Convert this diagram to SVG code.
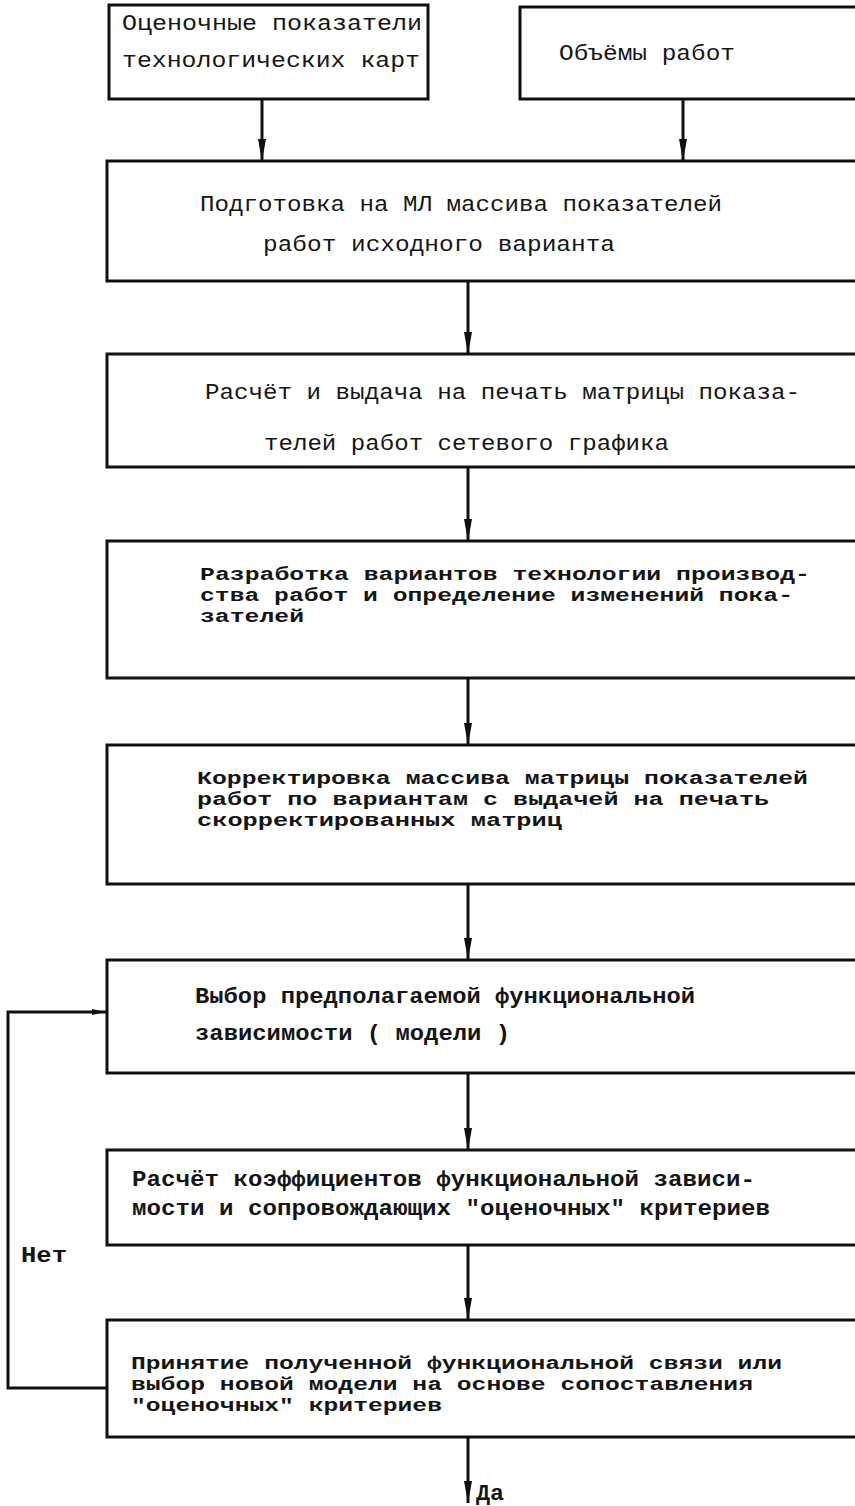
<svg xmlns="http://www.w3.org/2000/svg" width="855" height="1506" viewBox="0 0 855 1506">
<style>
.box{fill:none;stroke:#111;stroke-width:3}
.ln{fill:none;stroke:#111;stroke-width:3}
.t{font-family:"Liberation Mono","DejaVu Sans Mono",monospace;font-size:22px;fill:#151515}
.s{font-size:19px}
.b{font-weight:bold}
</style>
<defs>
<marker id="ah" viewBox="0 0 22 8" refX="22" refY="4" markerWidth="22" markerHeight="8" markerUnits="userSpaceOnUse" orient="auto">
<path d="M0,0 L22,4 L0,8 z" fill="#111"/>
</marker>
<marker id="ahs" viewBox="0 0 14 6" refX="14" refY="3" markerWidth="14" markerHeight="6" markerUnits="userSpaceOnUse" orient="auto">
<path d="M0,0 L14,3 L0,6 z" fill="#111"/>
</marker>
</defs>
<rect width="855" height="1506" fill="#fff"/>

<g id="connectors">
<line class="ln" x1="262" y1="99" x2="262" y2="161" marker-end="url(#ah)"/>
<line class="ln" x1="683" y1="99" x2="683" y2="161" marker-end="url(#ah)"/>
<line class="ln" x1="468" y1="281" x2="468" y2="354" marker-end="url(#ah)"/>
<line class="ln" x1="468" y1="467" x2="468" y2="541" marker-end="url(#ah)"/>
<line class="ln" x1="468" y1="678" x2="468" y2="745" marker-end="url(#ah)"/>
<line class="ln" x1="468" y1="884" x2="468" y2="960" marker-end="url(#ah)"/>
<line class="ln" x1="468" y1="1073" x2="468" y2="1150" marker-end="url(#ah)"/>
<line class="ln" x1="468" y1="1245" x2="468" y2="1320" marker-end="url(#ah)"/>
<line class="ln" x1="468" y1="1437" x2="468" y2="1503" marker-end="url(#ah)"/>
<path class="ln" d="M107,1388 H8 V1012 H106" marker-end="url(#ahs)"/>
<text class="t b" x="21" y="1262" textLength="46" lengthAdjust="spacingAndGlyphs">Нет</text>
<text class="t b" x="476" y="1500" textLength="28" lengthAdjust="spacingAndGlyphs">Да</text>
</g>

<g id="n1">
<rect class="box" x="109" y="5" width="319" height="94"/>
<text class="t" x="122" y="30" textLength="300" lengthAdjust="spacingAndGlyphs">Оценочные показатели</text>
<text class="t" x="122" y="67" textLength="298" lengthAdjust="spacingAndGlyphs">технологических карт</text>
</g>

<g id="n2">
<rect class="box" x="520" y="7" width="345" height="92"/>
<text class="t" x="559" y="60" textLength="176" lengthAdjust="spacingAndGlyphs">Объёмы работ</text>
</g>

<g id="n3">
<rect class="box" x="107" y="161" width="760" height="120"/>
<text class="t" x="200" y="211" textLength="522" lengthAdjust="spacingAndGlyphs">Подготовка на МЛ массива показателей</text>
<text class="t" x="263" y="251" textLength="352" lengthAdjust="spacingAndGlyphs">работ исходного варианта</text>
</g>

<g id="n4">
<rect class="box" x="107" y="354" width="760" height="113"/>
<text class="t" x="205" y="399" textLength="595" lengthAdjust="spacingAndGlyphs">Расчёт и выдача на печать матрицы показа-</text>
<text class="t" x="264" y="450" textLength="405" lengthAdjust="spacingAndGlyphs">телей работ сетевого графика</text>
</g>

<g id="n5">
<rect class="box" x="107" y="541" width="760" height="137"/>
<text class="t s b" x="200" y="580" textLength="610" lengthAdjust="spacingAndGlyphs">Разработка вариантов технологии производ-</text>
<text class="t s b" x="200" y="601" textLength="593" lengthAdjust="spacingAndGlyphs">ства работ и определение изменений пока-</text>
<text class="t s b" x="200" y="622" textLength="104" lengthAdjust="spacingAndGlyphs">зателей</text>
</g>

<g id="n6">
<rect class="box" x="107" y="745" width="760" height="139"/>
<text class="t s b" x="197" y="784" textLength="611" lengthAdjust="spacingAndGlyphs">Корректировка массива матрицы показателей</text>
<text class="t s b" x="197" y="805" textLength="572" lengthAdjust="spacingAndGlyphs">работ по вариантам с выдачей на печать</text>
<text class="t s b" x="197" y="826" textLength="365" lengthAdjust="spacingAndGlyphs">скорректированных матриц</text>
</g>

<g id="n7">
<rect class="box" x="107" y="960" width="760" height="113"/>
<text class="t b" x="195" y="1003" textLength="500" lengthAdjust="spacingAndGlyphs">Выбор предполагаемой функциональной</text>
<text class="t b" x="195" y="1040" textLength="315" lengthAdjust="spacingAndGlyphs">зависимости ( модели )</text>
</g>

<g id="n8">
<rect class="box" x="107" y="1150" width="760" height="95"/>
<text class="t b" x="132" y="1186" textLength="623" lengthAdjust="spacingAndGlyphs">Расчёт коэффициентов функциональной зависи-</text>
<text class="t b" x="132" y="1215" textLength="638" lengthAdjust="spacingAndGlyphs">мости и сопровождающих "оценочных" критериев</text>
</g>

<g id="n9">
<rect class="box" x="107" y="1320" width="760" height="117"/>
<text class="t s b" x="131" y="1369" textLength="651" lengthAdjust="spacingAndGlyphs">Принятие полученной функциональной связи или</text>
<text class="t s b" x="131" y="1390" textLength="622" lengthAdjust="spacingAndGlyphs">выбор новой модели на основе сопоставления</text>
<text class="t s b" x="131" y="1411" textLength="311" lengthAdjust="spacingAndGlyphs">"оценочных" критериев</text>
</g>
</svg>
